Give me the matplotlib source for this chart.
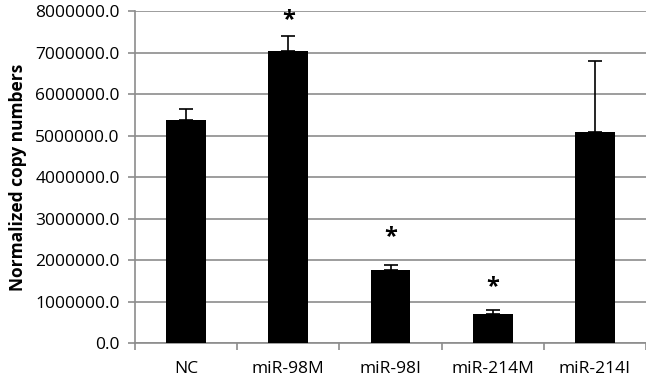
import numpy as np
import matplotlib.pyplot as plt

# --- Data ---
groups = ["NC", "miR-98M", "miR-98I", "miR-214M", "miR-214I"]
copies = [5370000, 7040000, 1770000, 710000, 5090000]
err_up = [260000, 360000, 110000, 90000, 1710000]
significant = [False, True, True, True, False]
star_y = [0, 7780000, 2550000, 1350000, 0]

plt.rcParams['font.family'] = ['Open Sans', 'DejaVu Sans']

fig = plt.figure(figsize=(6.46, 3.80), dpi=100)
ax = fig.add_axes([0.209, 0.097, 0.791, 0.874])

x = np.arange(len(groups))
ax.bar(x, copies, width=0.39, color="black", zorder=3,
       yerr=[np.zeros(len(err_up)), err_up],
       error_kw=dict(ecolor="black", elinewidth=1.2, capsize=5, capthick=1.2, zorder=3))

for xi, sig, sy in zip(x, significant, star_y):
    if sig:
        ax.text(xi, sy, "*", ha="center", va="center", fontsize=17, fontweight="bold")

# --- Axes styling ---
ax.set_xlim(-0.5, len(groups) - 0.5)
ax.set_ylim(0, 8000000)
ax.set_yticks(np.arange(0, 8000001, 1000000))
ax.set_yticklabels([f"{v:.1f}" for v in np.arange(0, 8000001, 1000000)], fontsize=12.5)
ax.yaxis.grid(True, color="#8c8c8c", linewidth=1.2, zorder=0)
ax.set_axisbelow(True)

ax.set_xticks(x)
ax.set_xticklabels(groups, fontsize=12.5)
ax.tick_params(axis="x", length=0, pad=13)
ax.set_xticks(np.arange(-0.5, len(groups)), minor=True)
ax.tick_params(axis="x", which="minor", length=5, color="#8c8c8c", width=1.2)
ax.tick_params(axis="y", length=5, color="#8c8c8c", width=1.2, pad=6)

for side in ["top", "right"]:
    ax.spines[side].set_visible(False)
for side in ["left", "bottom"]:
    ax.spines[side].set_color("#8c8c8c")
    ax.spines[side].set_linewidth(1.2)

ax.set_ylabel("Normalized copy numbers", fontsize=12.5, fontweight="bold", labelpad=6)

fig.savefig("out.png", dpi=100)
